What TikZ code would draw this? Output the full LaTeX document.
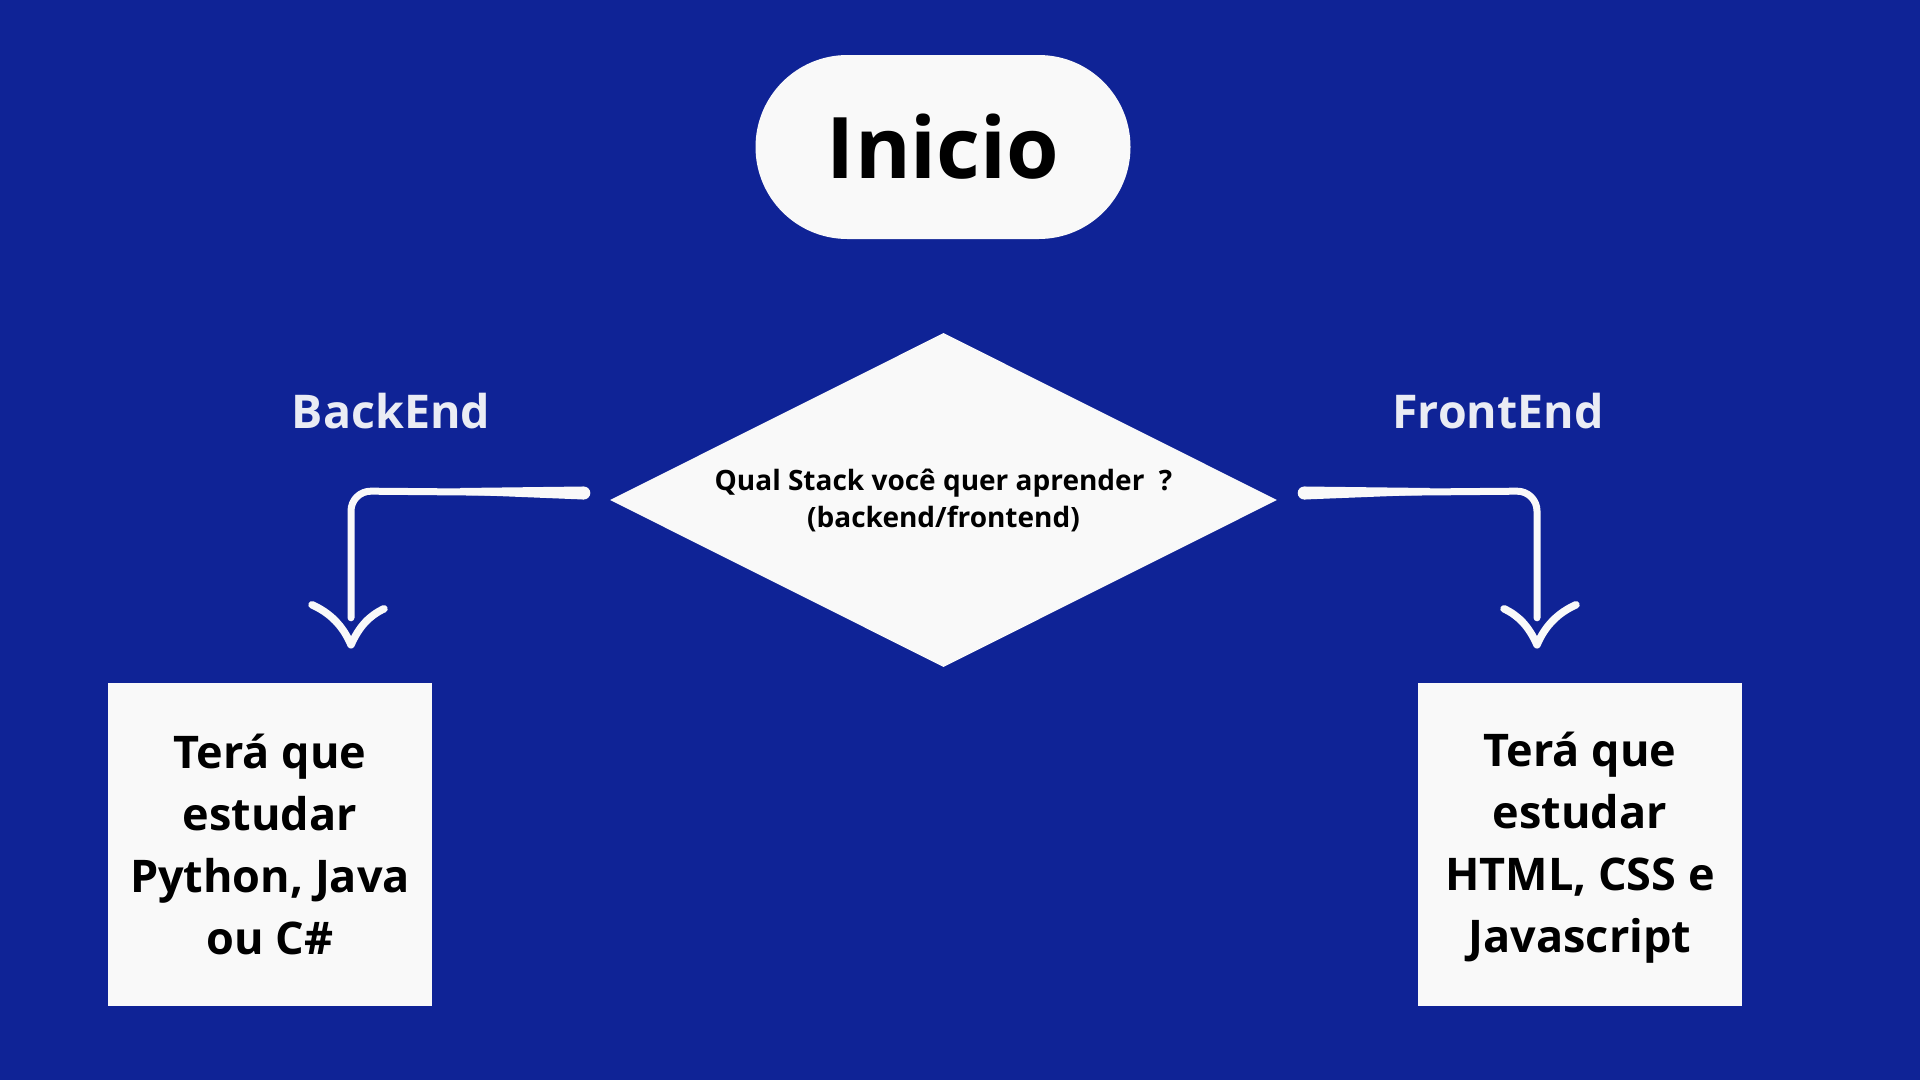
\documentclass[tikz,border=0pt]{standalone}
\usepackage{fontspec}
\setmainfont{Open Sans}
\usetikzlibrary{shapes.geometric,calc}
\definecolor{bgblue}{HTML}{0F2396}
\definecolor{paper}{HTML}{F9F9F9}
\definecolor{labelc}{HTML}{EAECF4}
\tikzset{
  startnode/.style={fill=paper, rounded corners=91.9pt, minimum width=375pt, minimum height=184pt, inner sep=0pt, font=\bfseries\fontsize{85}{100}\selectfont},
  decision/.style={diamond, aspect=2, fill=paper, minimum width=667pt, minimum height=334pt, inner sep=0pt, align=center, font=\bfseries\fontsize{28}{37}\selectfont},
  resultbox/.style={fill=paper, minimum width=324pt, minimum height=323pt, inner sep=0pt, align=center, font=\bfseries\fontsize{45}{62}\selectfont},
  branchlabel/.style={anchor=base, text=labelc, inner sep=0pt, font=\bfseries\fontsize{46.5}{55}\selectfont},
  flowline/.style={draw=paper, line width=7pt, line cap=round, line join=round},
  headline/.style={draw=paper, line width=7.5pt, line cap=round, line join=round}
}
\begin{document}
\begin{tikzpicture}[x=1pt,y=-1pt]
\useasboundingbox (0,0) rectangle (1920,1080);
\fill[bgblue] (0,0) rectangle (1920,1080);

\node[startnode] (ini) at (943,147) {Inicio};
\node[decision] (q) at (943.5,500) {Qual Stack você quer aprender~~?\\(backend/frontend)};
\node[resultbox] (bl) at (270,844.5) {Terá que\\estudar\\Python, Java\\ou C\#};
\node[resultbox, text depth=4pt] (br) at (1580,844.5) {Terá que\\estudar\\HTML, CSS e\\Javascript};
\node[branchlabel] (lb) at (391,428) {BackEnd};
\node[branchlabel] (lf) at (1498,428) {FrontEnd};

% left connector
\coordinate (s1) at ([shift={(-26,-7)}]q.west);
\coordinate (k1) at (351,491);
\coordinate (t1) at ([yshift=38pt]bl.north -| k1);
\coordinate (e1) at ([yshift=65pt]bl.north -| k1);
\draw[flowline, rounded corners=20pt] (s1) -- (k1) -- (e1);
\fill[paper] ([yshift=6.5pt]s1) -- (460,488) -- (460,494.5) -- ([yshift=-6.5pt]s1) -- cycle;
\fill[paper] (s1) circle (6.5pt);
\draw[headline] ([shift={(-39,-40)}]t1) .. controls ([shift={(-21,-32)}]t1) and ([shift={(-8,-19)}]t1) .. (t1)
  .. controls ([shift={(8,-18)}]t1) and ([shift={(18,-29)}]t1) .. ([shift={(33,-36)}]t1);

% right connector
\coordinate (s2) at ([shift={(27,-7)}]q.east);
\coordinate (k2) at (1537,491);
\coordinate (t2) at ([yshift=38pt]br.north -| k2);
\coordinate (e2) at ([yshift=65pt]br.north -| k2);
\draw[flowline, rounded corners=20pt] (s2) -- (k2) -- (e2);
\fill[paper] ([yshift=6.5pt]s2) -- (1430,488) -- (1430,494.5) -- ([yshift=-6.5pt]s2) -- cycle;
\fill[paper] (s2) circle (6.5pt);
\draw[headline] ([shift={(-33,-36)}]t2) .. controls ([shift={(-18,-29)}]t2) and ([shift={(-8,-18)}]t2) .. (t2)
  .. controls ([shift={(8,-19)}]t2) and ([shift={(21,-32)}]t2) .. ([shift={(39,-40)}]t2);
\end{tikzpicture}
\end{document}
